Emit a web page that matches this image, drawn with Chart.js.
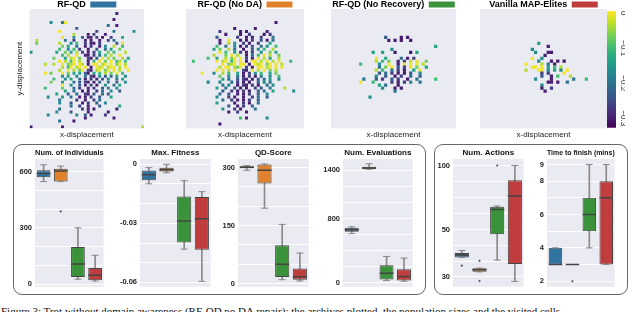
<!DOCTYPE html>
<html>
<head>
<meta charset="utf-8">
<script src="https://cdn.jsdelivr.net/npm/chart.js"></script>
<style>
  body { margin: 0; width: 640px; height: 312px; overflow: hidden; background: #fff; position: relative; }
  canvas { position: absolute; }
  .group-box { position: absolute; box-sizing: border-box; border: 1.5px solid #666; border-radius: 9px; }
  #caption { position: absolute; left: 1px; top: 305px; font: 11px 'Liberation Serif', serif; color: #111; white-space: nowrap; }
</style>
</head>
<body>
<div class="group-box" style="left:13px;top:144px;width:413px;height:151px"></div>
<div class="group-box" style="left:434px;top:144px;width:194px;height:151px"></div>

<canvas id="map0" width="148" height="140" style="left:0px;top:0px"></canvas>
<canvas id="map1" width="130" height="140" style="left:180px;top:0px"></canvas>
<canvas id="map2" width="137" height="140" style="left:325px;top:0px"></canvas>
<canvas id="map3" width="139" height="140" style="left:474px;top:0px"></canvas>
<canvas id="colorbar" width="119" height="18" style="left:625px;top:9px;transform-origin:0 0;transform:rotate(90deg)"></canvas>

<canvas id="box0" width="108" height="150" style="left:5px;top:146px"></canvas>
<canvas id="box1" width="106" height="150" style="left:114px;top:146px"></canvas>
<canvas id="box2" width="106" height="150" style="left:212px;top:146px"></canvas>
<canvas id="box3" width="107" height="150" style="left:315px;top:146px"></canvas>
<canvas id="box4" width="104" height="150" style="left:429px;top:146px"></canvas>
<canvas id="box5" width="89" height="150" style="left:535px;top:146px"></canvas>

<div id="caption">Figure 3: Trot without domain awareness (RF-QD no DA repair): the archives plotted, the population sizes and the visited cells</div>

<script>
const methods = ['RF-QD', 'RF-QD (No DA)', 'RF-QD (No Recovery)', 'Vanilla MAP-Elites'];
const methodColors = ['#3274a1', '#e1812c', '#3a923a', '#c03d3e'];

// archive cells: one string per grid row, digit = fitness level, '.' = empty
const levelValues = [-0.3, -0.267, -0.233, -0.2, -0.167, -0.133, -0.1, -0.067, -0.033, 0];

const archiveRFQD = [
  "",
  "..............................0",
  "",
  ".............................0",
  ".......4...39",
  "...........................3..0",
  "................2",
  "..........9............1.....3......4",
  "...............8....0.1...0",
  "...........9...4..2.00.1.0..1...5",
  "..8.........3..1...0.0..0..1.3",
  "..7.......8...4.6..1.00.1.....2.9",
  "...........7.5..3..0.1..0.4..8..6",
  "..........6..4.6.1..0..2..3.5..7",
  "4........5..7.5.8.1.0.1.5..7.6...8",
  "...........6.8..9..00.1.3.6.8..9",
  "........7...5.89.7..10.2.9.8.7..8.5",
  "..........9.8.69.8..0.6.9.7.9.68.6",
  ".....8..8..9.789.98.0.99.89.9.79.8",
  "...........8.69.89.9.0.989.899.8.9",
  "..........8..9.8.79.10.89.79.9.8..9",
  ".....9.7...9.7.5.5.20.5.6.8.7.9.6",
  "...........4.5..4..3.10.4.2.3.5..4",
  "........6...4.5..3.0.1.0.2.4..3.5",
  ".......7...4...3.2.10.0.2..3..2..4",
  "...........9..4..2.0.1.0..4..3.5",
  ".....6.....7...3.1..0.1..2.3..4",
  "............5..3..0.0..1.3..4..2",
  ".........5...2..3..10.2..3.2",
  "......4....5..3..0.0.1..2...5",
  "..........3.....1..0..1.3",
  "..........4...2...0.1..2..4",
  "..............3..1..0...2......5",
  "..........3.......1.0.0.......0",
  ".........4....2.....0......0",
  "......4.........4..2.0....1",
  "...................0.........0",
  "..........3....0",
  "",
  "0..........0...........................8"
];

const archiveNoDA = [
  "",
  "",
  "",
  "",
  "..............................0",
  "",
  "................0......0",
  "...........1......0.0......0",
  ".............0....0..1....0.1",
  "..........2......1..0.0..1...3",
  "...........0..9...0.0.1..2.0.3",
  "...........0..8.4..1.0..1...5",
  "..........6..3..4.0.1.2..3.4..6",
  ".........5.7..8.3..0..2.4.6..8",
  "...........9.6..5.1.0.1..4..7.5",
  ".........8...7.9.8..0.3.6.9.8..7",
  ".......6..5..8.79.9.1.0.9.8.5..8",
  "..6.......9.89.69.9.0.99.8.9.8.9...6",
  "............9.789.99.0.989.79.9.8",
  "...........8.99.879.1.0.99.89.9.9",
  "..........9.9.8.9..10.9.8.9.7.8",
  ".....9...4..8.6..5.0.1.4.6..5.7",
  "...........7..4..3.0.1.0.3..4..6",
  "............5.3..2.10.0.2.3.5..4",
  ".......4...4...3.1.0.0..2.4.3",
  "............3.4..0.10.1.0..3.4",
  "..........5..3..2.0.0..1.2..3....8",
  "............2..1.0.1.0..2.3..5......4",
  "...........3..2..0.0.1..2..4",
  "..........4...1.0..0..1.3..2",
  "............3..1.0.0.1..2",
  "..........5.....0..1.0..3",
  "..............2..0.1..2",
  "............4...1.0....3",
  "..............0..1..0",
  "",
  "..................6.0......4",
  "",
  "...........0",
  ""
];

const archiveNoRecovery = [
  "", "", "", "", "", "", "", "", "",
  ".................2....0.0",
  "..................0.0.0..0",
  "",
  ".................................5",
  "...................4",
  ".............5..5...0....0.5",
  "",
  "..............9..5....3.0.1",
  "..............8.6.7..0.1.8.9..7",
  ".........6.....4..9..0.9.9.9.8",
  "...............3.7.9.2.1.9.7..5",
  "..............8.6..3.1.0..5.9",
  "...............2.3.1.0.0.2..4",
  "..............4..2..0.1..3..2",
  "..........3...2.1..2.1..0..3.....6",
  ".........9...6.....1.0.1.4..3",
  "...............5.3...0",
  "................4...0.0",
  "....................3",
  "",
  "............4",
  "", "", "", "", "", "", "", "", "", ""
];

const archiveVanilla = [
  "", "", "", "", "", "", "", "", "", "", "",
  "..................5",
  ".....................0",
  "................4",
  ".................4...00",
  "....................0",
  "................9..4",
  "..................4...0.0.0",
  "..............9....8.3.0",
  "................99.9.5.6.8",
  "..............8...99.4.5.4.9",
  "...................1.1....9",
  "...................2..0.6...8",
  ".................4....0......3...6",
  ".....................00.0..3",
  "...................4",
  "...................0..1",
  "....................0",
  "", "", "", "", "", "", "", "", "", "", "", ""
];

const colorbarRange = [-0.327, 0.006];
const colorbarTicks = [0, -0.1, -0.2, -0.3];
const colorbarLabels = ['0', '\u22120.1', '\u22120.2', '\u22120.3'];

// box stats per method: [low whisker, q1, median, q3, high whisker]
const individualsStats = [[548, 571, 591, 609, 638], [548, 548, 605, 617, 631], [26, 38, 107, 199, 301], [16, 21, 47, 86, 154]];
const individualsOutliers = [[], [389], [], []];
const individualsRange = [-14, 669];
const individualsGrid = [0, 100, 200, 300, 400, 500, 600];
const individualsTicks = [0, 300, 600];
const individualsLabels = ['0', '300', '600'];

const fitnessStats = [[-0.0099, -0.0081, -0.0053, -0.0031, -0.0017], [-0.0043, -0.0036, -0.0027, -0.0017, 0], [-0.0431, -0.0398, -0.0288, -0.0164, -0.0083], [-0.0595, -0.0434, -0.0277, -0.0166, -0.0139]];
const fitnessOutliers = [[], [], [], []];
const fitnessRange = [-0.0622, 0.0027];
const fitnessGrid = [-0.06, -0.05, -0.04, -0.03, -0.02, -0.01, 0];
const fitnessTicks = [-0.06, -0.03, 0];
const fitnessLabels = ['-0.06', '-0.03', '0'];

const qdScoreStats = [[293, 298, 301, 303, 305], [195, 259, 293, 308, 309], [10, 17, 50, 99, 153], [7, 10, 18, 39, 79]];
const qdScoreOutliers = [[], [], [], []];
const qdScoreRange = [-8, 322];
const qdScoreGrid = [0, 50, 100, 150, 200, 250, 300];
const qdScoreTicks = [0, 150, 300];
const qdScoreLabels = ['0', '150', '300'];

const evaluationsStats = [[612, 636, 660, 684, 696], [1412, 1412, 1428, 1444, 1480], [28, 40, 120, 220, 328], [20, 28, 80, 168, 308]];
const evaluationsOutliers = [[], [], [], []];
const evaluationsRange = [-48, 1540];
const evaluationsGrid = [0, 200, 400, 600, 800, 1000, 1200, 1400];
const evaluationsTicks = [0, 800, 1400];
const evaluationsLabels = ['0', '800', '1400'];

const actionsStats = [[37, 37, 38, 38.9, 39.9], [31.7, 31.7, 32.4, 33, 33], [36, 47.6, 62.1, 64.1, 64.5], [28.6, 34.5, 71.9, 85.4, 100]];
const actionsOutliers = [[33.9], [35.7, 28.7], [100], []];
const actionsRange = [27, 107.3];
const actionsGrid = [30, 35.6, 42.3, 50, 59.7, 70.9, 84.2, 100];
const actionsTicks = [30, 50, 100];
const actionsLabels = ['30', '50', '100'];

const finishStats = [[3, 3, 3, 4, 4], [3, 3, 3, 3, 3], [4, 5, 6, 7, 9], [3, 3, 7, 8, 9]];
const finishOutliers = [[], [2], [], []];
const finishRange = [1.67, 9.33];
const finishGrid = [2, 3, 4, 5, 6, 7, 8, 9];
const finishTicks = [2, 4, 6, 8, 9];
const finishLabels = ['2', '4', '6', '8', '9'];

document.addEventListener("DOMContentLoaded", () => {
  Chart.defaults.font.family = "'Liberation Sans', Arial, sans-serif";
  Chart.defaults.animation = false;
  Chart.defaults.events = [];
  Chart.defaults.plugins.tooltip.enabled = false;

  const viridisStops = ['#440154', '#482475', '#414487', '#355f8d', '#2a788e', '#21918c', '#22a884', '#44bf70', '#7ad151', '#bddf26', '#fde725'];
  const edgeColor = '#454545';
  const whiskerColor = '#8a8a8a';

  const plotBackground = {
    id: 'plotBackground',
    beforeDraw(chart) {
      const { ctx, chartArea: a } = chart;
      if (!a) return;
      ctx.save();
      ctx.fillStyle = '#eaeaf2';
      ctx.fillRect(a.left, a.top, a.width, a.height);
      ctx.restore();
    }
  };

  function hexToRgb(h) {
    return [1, 3, 5].map(i => parseInt(h.substr(i, 2), 16));
  }

  function viridisFor(v) {
    let t = (v - colorbarRange[0]) / (colorbarRange[1] - colorbarRange[0]);
    t = Math.min(1, Math.max(0, t)) * (viridisStops.length - 1);
    const i = Math.min(Math.floor(t), viridisStops.length - 2);
    const f = t - i;
    const a = hexToRgb(viridisStops[i]);
    const b = hexToRgb(viridisStops[i + 1]);
    const c = a.map((x, k) => Math.round(x + (b[k] - x) * f));
    return `rgb(${c[0]},${c[1]},${c[2]})`;
  }

  function gridToCells(rows) {
    const cells = [];
    rows.forEach((row, y) => {
      for (let x = 0; x < Math.min(row.length, 40); x++) {
        const ch = row[x];
        if (ch >= '0' && ch <= '9') cells.push({ x: x, y: y, v: levelValues[+ch] });
      }
    });
    return cells;
  }

  function tickLabeler(values, labels) {
    return v => {
      const i = values.findIndex(t => Math.abs(t - v) < 1e-9);
      return i < 0 ? '' : labels[i];
    };
  }

  function cellRadius(ctx) {
    const a = ctx.chart.chartArea;
    return a ? a.width / 40 / Math.SQRT2 + 0.05 : 2;
  }

  function cellColor(ctx) {
    return ctx.raw ? viridisFor(ctx.raw.v) : viridisStops[0];
  }

  function drawArchive(id, rows, index, withYTitle, sidePad) {
    new Chart(document.getElementById(id), {
      type: 'scatter',
      data: {
        datasets: [{
          data: gridToCells(rows),
          pointStyle: 'rect',
          pointRadius: cellRadius,
          pointBackgroundColor: cellColor,
          pointBorderWidth: 0
        }]
      },
      options: {
        responsive: false,
        layout: { padding: { left: sidePad, right: withYTitle ? 0 : sidePad } },
        plugins: {
          legend: {
            display: true,
            position: 'top',
            fullSize: false,
            rtl: true,
            textDirection: 'ltr',
            maxHeight: 9,
            labels: {
              boxWidth: 26,
              boxHeight: 6,
              padding: 0,
              color: '#111',
              font: { size: 9, weight: 'bold' },
              generateLabels: () => [{
                text: methods[index],
                fillStyle: methodColors[index],
                strokeStyle: methodColors[index],
                lineWidth: 0,
                hidden: false,
                datasetIndex: 0
              }]
            }
          }
        },
        scales: {
          x: {
            type: 'linear', min: -0.5, max: 39.5,
            ticks: { display: false },
            grid: { display: false, drawTicks: false },
            border: { display: false },
            title: { display: true, text: 'x-displacement', color: '#222', font: { size: 8 }, padding: { top: 2, bottom: 0 } }
          },
          y: {
            display: withYTitle,
            min: -0.5, max: 39.5, reverse: true,
            ticks: { display: false },
            grid: { display: false, drawTicks: false },
            border: { display: false },
            title: { display: true, text: 'y-displacement', color: '#222', font: { size: 8 }, padding: { top: 0, bottom: 5 } }
          }
        }
      },
      plugins: [plotBackground]
    });
  }

  drawArchive('map0', archiveRFQD, 0, true, 15);
  drawArchive('map1', archiveNoDA, 1, false, 6);
  drawArchive('map2', archiveNoRecovery, 2, false, 6);
  drawArchive('map3', archiveVanilla, 3, false, 6);

  function colorbarFill(ctx) {
    const chart = ctx.chart;
    const sx = chart.scales && chart.scales.x;
    if (!chart.chartArea || !sx) return viridisStops[5];
    const g = chart.ctx.createLinearGradient(sx.getPixelForValue(colorbarRange[0]), 0, sx.getPixelForValue(colorbarRange[1]), 0);
    viridisStops.forEach((c, i) => g.addColorStop(i / (viridisStops.length - 1), c));
    return g;
  }

  // colorbar: horizontal bar, canvas turned upright with css
  new Chart(document.getElementById('colorbar'), {
    type: 'bar',
    data: {
      labels: [''],
      datasets: [{
        data: [colorbarRange],
        barPercentage: 1,
        categoryPercentage: 1,
        borderWidth: 0,
        backgroundColor: colorbarFill
      }]
    },
    options: {
      indexAxis: 'y',
      responsive: false,
      plugins: { legend: { display: false } },
      scales: {
        x: {
          min: colorbarRange[0], max: colorbarRange[1], reverse: true, position: 'top',
          grid: { display: false, drawTicks: false },
          border: { display: false },
          afterBuildTicks: s => { s.ticks = colorbarTicks.map(v => ({ value: v })); },
          ticks: { padding: 2, color: '#222', font: { size: 8 }, maxRotation: 0, autoSkip: false, callback: tickLabeler(colorbarTicks, colorbarLabels) }
        },
        y: { display: false }
      }
    }
  });

  function drawBoxPlot(id, title, stats, outliers, range, gridValues, tickValues, tickLabels, axisWidth, axisType) {
    const caps = [];
    const medians = [];
    const outlierPoints = [];
    stats.forEach((s, i) => {
      caps.push({ x: methods[i], y: s[0] }, { x: methods[i], y: s[4] });
      medians.push({ x: methods[i], y: s[2] });
    });
    outliers.forEach((list, i) => list.forEach(y => outlierPoints.push({ x: methods[i], y: y })));
    const boxHalf = ctx => {
      const sx = ctx.chart.scales && ctx.chart.scales.x;
      return sx && sx.width ? sx.width / methods.length * 0.8 / 2 : 7.8;
    };

    new Chart(document.getElementById(id), {
      type: 'bar',
      data: {
        labels: methods,
        datasets: [
          { type: 'bar', data: stats.map(s => [s[0], s[4]]), backgroundColor: whiskerColor, barThickness: 1, grouped: false, order: 4 },
          { type: 'bar', data: stats.map(s => [s[1], s[3]]), backgroundColor: methodColors, borderColor: edgeColor, borderWidth: 1, borderSkipped: false, barPercentage: 0.8, categoryPercentage: 1, grouped: false, order: 3 },
          { type: 'scatter', data: caps, pointStyle: 'line', pointRadius: c => boxHalf(c) / 2, pointBorderColor: whiskerColor, pointBorderWidth: 1, order: 2 },
          { type: 'scatter', data: medians, pointStyle: 'line', pointRadius: c => boxHalf(c), pointBorderColor: edgeColor, pointBorderWidth: 1.5, order: 1 },
          { type: 'scatter', data: outlierPoints, pointStyle: 'rectRot', pointRadius: 1.3, pointBackgroundColor: '#555', pointBorderWidth: 0, order: 0 }
        ]
      },
      options: {
        responsive: false,
        layout: { padding: { bottom: 5 } },
        plugins: {
          legend: { display: false },
          title: { display: true, text: title, fullSize: false, color: '#111', font: { size: 8, weight: 'bold' }, padding: { top: 2, bottom: 1.4 } }
        },
        scales: {
          x: { display: false },
          y: {
            type: axisType || 'linear',
            min: range[0], max: range[1],
            afterFit: s => { s.width = axisWidth; },
            afterBuildTicks: s => { s.ticks = gridValues.map(v => ({ value: v })); },
            grid: { color: '#ffffff', lineWidth: 1, drawTicks: false },
            border: { display: false },
            ticks: { padding: 3, autoSkip: false, color: '#262626', font: { size: 7.5, weight: 'bold' }, callback: tickLabeler(tickValues, tickLabels) }
          }
        }
      },
      plugins: [plotBackground]
    });
  }

  drawBoxPlot('box0', 'Num. of Individuals', individualsStats, individualsOutliers, individualsRange, individualsGrid, individualsTicks, individualsLabels, 30);
  drawBoxPlot('box1', 'Max. Fitness', fitnessStats, fitnessOutliers, fitnessRange, fitnessGrid, fitnessTicks, fitnessLabels, 26);
  drawBoxPlot('box2', 'QD-Score', qdScoreStats, qdScoreOutliers, qdScoreRange, qdScoreGrid, qdScoreTicks, qdScoreLabels, 26);
  drawBoxPlot('box3', 'Num. Evaluations', evaluationsStats, evaluationsOutliers, evaluationsRange, evaluationsGrid, evaluationsTicks, evaluationsLabels, 28);
  drawBoxPlot('box4', 'Num. Actions', actionsStats, actionsOutliers, actionsRange, actionsGrid, actionsTicks, actionsLabels, 24, 'logarithmic');
  drawBoxPlot('box5', 'Time to finish (mins)', finishStats, finishOutliers, finishRange, finishGrid, finishTicks, finishLabels, 12);
});
</script>
</body>
</html>
